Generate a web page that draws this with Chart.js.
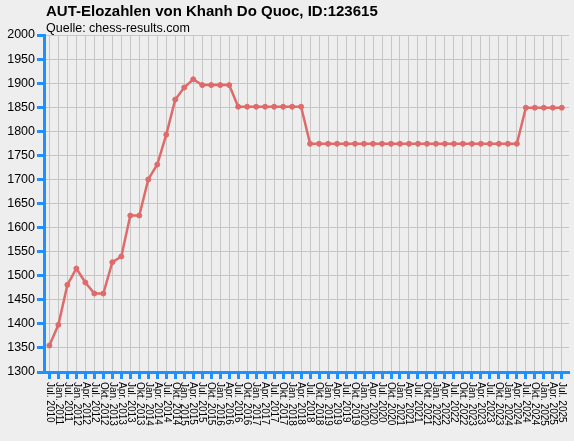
<!DOCTYPE html>
<html>
<head>
<meta charset="utf-8">
<script src="https://cdn.jsdelivr.net/npm/chart.js@4"></script>
<style>
  html, body { margin: 0; padding: 0; background: #eeeeee; }
  canvas { display: block; }
</style>
</head>
<body>
<canvas id="chart" width="574" height="441"></canvas>
<script>
// rating list dates (x axis)
const periods = [
  "Jul. 2010", "Jan. 2011", "Jul. 2011", "Jan. 2012", "Apr. 2012", "Jul. 2012", "Okt. 2012",
  "Jan. 2013", "Apr. 2013", "Jul. 2013", "Okt. 2013",
  "Jan. 2014", "Apr. 2014", "Jul. 2014", "Okt. 2014",
  "Jan. 2015", "Apr. 2015", "Jul. 2015", "Okt. 2015",
  "Jan. 2016", "Apr. 2016", "Jul. 2016", "Okt. 2016",
  "Jan. 2017", "Apr. 2017", "Jul. 2017", "Okt. 2017",
  "Jan. 2018", "Apr. 2018", "Jul. 2018", "Okt. 2018",
  "Jan. 2019", "Apr. 2019", "Jul. 2019", "Okt. 2019",
  "Jan. 2020", "Apr. 2020", "Jul. 2020", "Okt. 2020",
  "Jan. 2021", "Apr. 2021", "Jul. 2021", "Okt. 2021",
  "Jan. 2022", "Apr. 2022", "Jul. 2022", "Okt. 2022",
  "Jan. 2023", "Apr. 2023", "Jul. 2023", "Okt. 2023",
  "Jan. 2024", "Apr. 2024", "Jul. 2024", "Okt. 2024",
  "Jan. 2025", "Apr. 2025", "Jul. 2025"
]

// elo per period
const elo = [
  1355, 1398, 1481, 1515, 1486, 1463, 1463,
  1528, 1540, 1625, 1625,
  1700, 1731, 1793, 1866,
  1891, 1908, 1896, 1896,
  1896, 1896, 1851, 1851,
  1851, 1851, 1851, 1851,
  1851, 1851, 1774, 1774,
  1774, 1774, 1774, 1774,
  1774, 1774, 1774, 1774,
  1774, 1774, 1774, 1774,
  1774, 1774, 1774, 1774,
  1774, 1774, 1774, 1774,
  1774, 1774, 1849, 1849,
  1849, 1849, 1849
]

const titleText = "AUT-Elozahlen von Khanh Do Quoc, ID:123615"
const sourceText = "Quelle: chess-results.com"

const blue = "#1e90ff"
const gridGray = "#c6c6c6"
const lineRed = "#df6a6a"

// title, subtitle and the top-to-bottom x labels
const decorations = {
  id: "decorations",
  afterDraw(chart) {
    const ctx = chart.ctx
    const x = chart.scales.x
    ctx.save()
    ctx.fillStyle = "#000"
    ctx.textAlign = "left"
    ctx.textBaseline = "alphabetic"
    ctx.font = "bold 15px 'Liberation Sans'"
    ctx.fillText(titleText, 46, 16)
    ctx.font = "12.5px 'Liberation Sans'"
    ctx.fillText(sourceText, 46, 32)

    ctx.font = "10px 'Liberation Sans'"
    ctx.textBaseline = "middle"
    periods.forEach((p, i) => {
      ctx.save()
      ctx.translate(x.getPixelForValue(i), x.top + 10)
      ctx.rotate(Math.PI / 2)
      ctx.fillText(p, 0, 0)
      ctx.restore()
    })
    ctx.restore()
  }
}

new Chart(document.getElementById("chart").getContext("2d"), {
  type: "line",
  data: {
    datasets: [{
      data: elo.map((v, i) => ({x: i, y: v})),
      borderColor: lineRed,
      backgroundColor: lineRed,
      pointBackgroundColor: lineRed,
      pointBorderColor: lineRed,
      borderWidth: 2.5,
      pointRadius: 2.5,
      pointBorderWidth: 1,
      tension: 0
    }]
  },
  options: {
    responsive: false,
    animation: false,
    devicePixelRatio: 1,
    layout: {padding: {top: 35, right: 4, left: 0, bottom: 0}},
    plugins: {
      legend: {display: false},
      tooltip: {enabled: false}
    },
    scales: {
      x: {
        type: "linear",
        min: -0.6,
        max: 57.8,
        afterBuildTicks: axis => {
          axis.ticks = periods.map((_, i) => ({value: i}))
        },
        afterFit: scale => { scale.height = 69 },
        ticks: {display: false},
        grid: {color: gridGray, lineWidth: 1, tickColor: blue, tickLength: 7, tickWidth: 3},
        border: {color: blue, width: 3}
      },
      y: {
        min: 1300,
        max: 2000,
        afterFit: scale => { scale.width = 44 },
        ticks: {
          stepSize: 50,
          color: "#000",
          padding: 2,
          font: {family: "'Liberation Sans'", size: 12.5},
          callback: v => String(v)
        },
        grid: {color: gridGray, lineWidth: 1, tickColor: blue, tickLength: 7, tickWidth: 3},
        border: {color: blue, width: 3}
      }
    }
  },
  plugins: [decorations]
})
</script>
</body>
</html>
